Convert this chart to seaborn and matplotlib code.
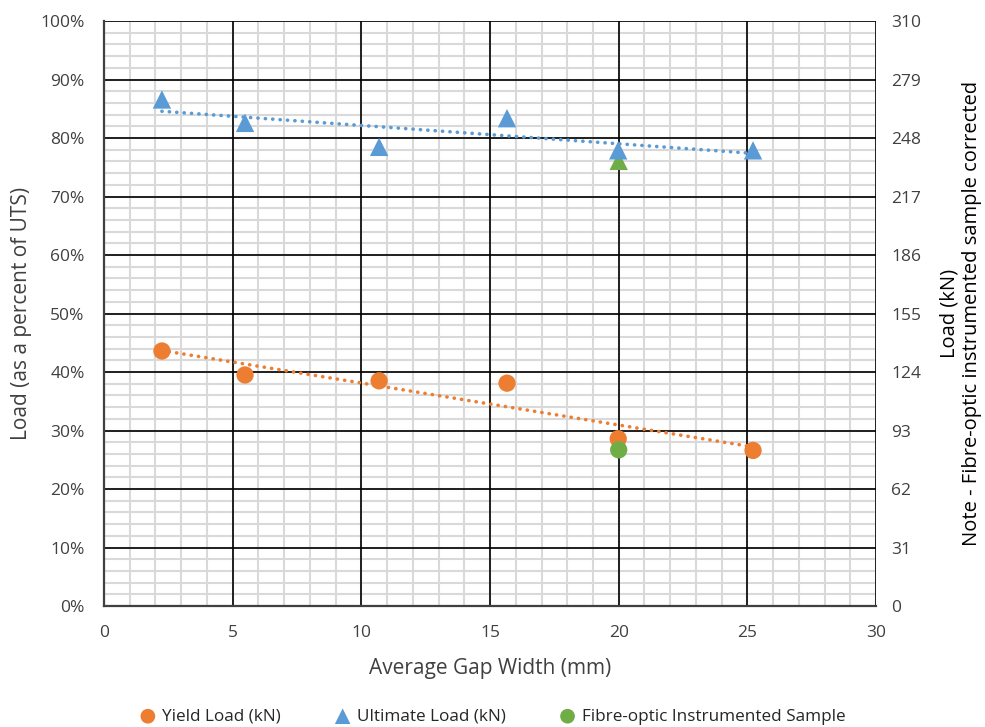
import numpy as np
import pandas as pd
import seaborn as sns
import matplotlib.pyplot as plt
from matplotlib.ticker import MultipleLocator, FuncFormatter

# ---- data ----
gap_width = [2.25, 5.48, 10.69, 15.66, 19.98, 25.22]
yield_pct = [43.6, 39.5, 38.5, 38.1, 28.6, 26.6]
ultimate_pct = [86.6, 82.6, 78.5, 83.4, 77.9, 77.9]
fibre_gap = [20.0]
fibre_yield_pct = [26.7]
fibre_ultimate_pct = [76.1]

right_ticks = [0, 31, 62, 93, 124, 155, 186, 217, 248, 279, 310]

df = pd.DataFrame({'gap': gap_width, 'yield': yield_pct, 'ultimate': ultimate_pct})
df_fibre = pd.DataFrame({'gap': fibre_gap, 'yield': fibre_yield_pct, 'ultimate': fibre_ultimate_pct})

ORANGE = '#ED7D31'
BLUE = '#5B9BD5'
GREEN = '#70AD47'
TXT = '#404040'

sns.set_theme(style="white")
plt.rcParams['font.family'] = ['Open Sans', 'DejaVu Sans']

fig = plt.figure(figsize=(9.85, 7.27), dpi=100)
rect = [0.1056, 0.1664, 0.7838, 0.8046]

# light minor grid on a background axes, so the black major grid sits on top of it
ax_bg = fig.add_axes(rect, zorder=0)
ax_bg.set_xlim(0, 30)
ax_bg.set_ylim(0, 100)
ax_bg.xaxis.set_major_locator(MultipleLocator(1))
ax_bg.yaxis.set_major_locator(MultipleLocator(2))
ax_bg.grid(color='#d9d9d9', linewidth=1.5)
ax_bg.tick_params(length=0, labelbottom=False, labelleft=False)
for s in ax_bg.spines.values():
    s.set_visible(False)

ax = fig.add_axes(rect, zorder=1)
ax.patch.set_alpha(0)
ax.set_xlim(0, 30)
ax.set_ylim(0, 100)
ax.xaxis.set_major_locator(MultipleLocator(5))
ax.yaxis.set_major_locator(MultipleLocator(10))
ax.grid(color='black', linewidth=1.2)
ax.set_axisbelow(True)
ax.yaxis.set_major_formatter(FuncFormatter(lambda v, p: f"{v:.0f}%"))

# scatter points
sns.scatterplot(data=df, x='gap', y='yield', ax=ax, color=ORANGE, marker='o', s=155,
                edgecolor='none', label='Yield Load (kN)', zorder=3)
sns.scatterplot(data=df, x='gap', y='ultimate', ax=ax, color=BLUE, marker='^', s=175,
                edgecolor='none', label='Ultimate Load (kN)', zorder=3)

# dotted linear trendlines
dot = (0, (0.05, 2.0))
for col, c in [('yield', ORANGE), ('ultimate', BLUE)]:
    sns.regplot(data=df, x='gap', y=col, ax=ax, scatter=False, ci=None, color=c,
                line_kws={'linestyle': dot, 'linewidth': 2.6, 'dash_capstyle': 'round', 'zorder': 4})

# fibre-optic sample
sns.scatterplot(data=df_fibre, x='gap', y='yield', ax=ax, color=GREEN, marker='o', s=155,
                edgecolor='none', label='Fibre-optic Instrumented Sample', zorder=5)
sns.scatterplot(data=df_fibre, x='gap', y='ultimate', ax=ax, color=GREEN, marker='^', s=175,
                edgecolor='none', zorder=2)

ax.set_xlabel('Average Gap Width (mm)', fontsize=15, color=TXT, labelpad=12)
ax.set_ylabel('Load (as a percent of UTS)', fontsize=15, color=TXT, labelpad=6)
ax.tick_params(axis='x', length=0, labelsize=12.5, colors=TXT, pad=14)
ax.tick_params(axis='y', length=0, labelsize=12.5, colors=TXT, pad=14)
for side in ['top', 'right']:
    ax.spines[side].set_visible(False)
for side in ['left', 'bottom']:
    ax.spines[side].set_color(TXT)
    ax.spines[side].set_linewidth(1.6)

# right axis in kN
ax2 = ax.twinx()
ax2.set_ylim(0, 310)
ax2.set_yticks(right_ticks)
ax2.tick_params(axis='y', length=0, labelsize=12.5, colors=TXT, pad=11)
ax2.set_ylabel('Load (kN)\nNote - Fibre-optic instrumented sample corrected',
               fontsize=14.5, color='black', labelpad=13, linespacing=1.15)
for side in ax2.spines:
    ax2.spines[side].set_visible(False)

# legend at the bottom
handles, labels = ax.get_legend_handles_labels()
ax.get_legend().remove()
fig.legend(handles, labels, loc='lower center', bbox_to_anchor=(0.5, -0.018), ncol=3,
           frameon=False, fontsize=12.3, handlelength=1.0, handletextpad=0.35,
           columnspacing=3.1, markerscale=0.85)

fig.savefig('out.png', dpi=100)
